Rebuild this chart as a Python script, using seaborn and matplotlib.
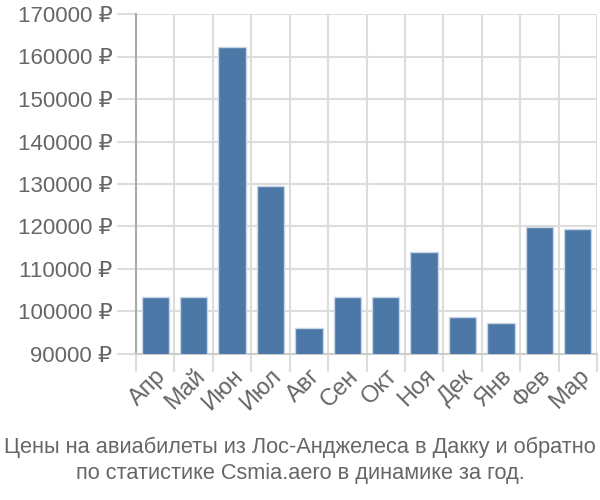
import matplotlib
matplotlib.use("Agg")
import matplotlib.pyplot as plt
import seaborn as sns
import numpy as np
import pandas as pd

months = ["Апр", "Май", "Июн", "Июл", "Авг", "Сен", "Окт", "Ноя", "Дек", "Янв", "Фев", "Мар"]
prices = [103300, 103300, 162300, 129500, 96000, 103300, 103300, 114000, 98800, 97400, 119800, 119300]
yticks = [90000, 100000, 110000, 120000, 130000, 140000, 150000, 160000, 170000]
title_lines = ["Цены на авиабилеты из Лос-Анджелеса в Дакку и обратно",
               "по статистике Csmia.aero в динамике за год."]

sns.set_theme(style="white")
plt.rcParams['font.family'] = ['Liberation Sans', 'DejaVu Sans']

df = pd.DataFrame({"month": months, "price": prices})

fig = plt.figure(figsize=(6, 5), dpi=100)
ax = fig.add_axes([136/600, (500-354)/500, 461/600, 340/500])

sns.barplot(data=df, x="month", y="price", color="#4C78A8", saturation=1,
            width=0.71, edgecolor="#c9d6e6", linewidth=1, ax=ax, zorder=3)

ax.set_ylim(90000, 170000)
ax.set_xlim(-0.5, len(months) - 0.5)
ax.set_yticks(yticks)
ax.set_yticklabels([f"{v} ₽" for v in yticks])
ax.set_xticks(range(len(months)))
ax.set_xticklabels(months, rotation=45, ha="right", rotation_mode="anchor")
ax.set_xticks(np.arange(-0.5, len(months)), minor=True)

ax.grid(True, axis="y", which="major", color="#dddddd", linewidth=1.5, zorder=0)
ax.grid(True, axis="x", which="minor", color="#dddddd", linewidth=1.5, zorder=0)
ax.grid(False, axis="x", which="major")

ax.tick_params(axis="y", which="major", length=14, color="#dddddd", width=1.5,
               labelsize=16, labelcolor="#666666", pad=3, left=True)
ax.tick_params(axis="x", which="major", length=0, labelsize=17, labelcolor="#666666", pad=8)
ax.tick_params(axis="x", which="minor", length=13, color="#dddddd", width=1.5, bottom=True)

for s in ["top", "right"]:
    ax.spines[s].set_visible(False)
ax.spines["left"].set_color("#aaaaaa")
ax.spines["left"].set_linewidth(1.5)
ax.spines["bottom"].set_color("#cccccc")
ax.spines["bottom"].set_linewidth(1.5)
ax.set_xlabel("")
ax.set_ylabel("")

fig.text(0.5, 1 - 447/500, title_lines[0], ha="center", va="center", fontsize=15.7, color="#666666")
fig.text(0.5, 1 - 474/500, title_lines[1], ha="center", va="center", fontsize=15.7, color="#666666")

fig.savefig("out.png", dpi=100)
